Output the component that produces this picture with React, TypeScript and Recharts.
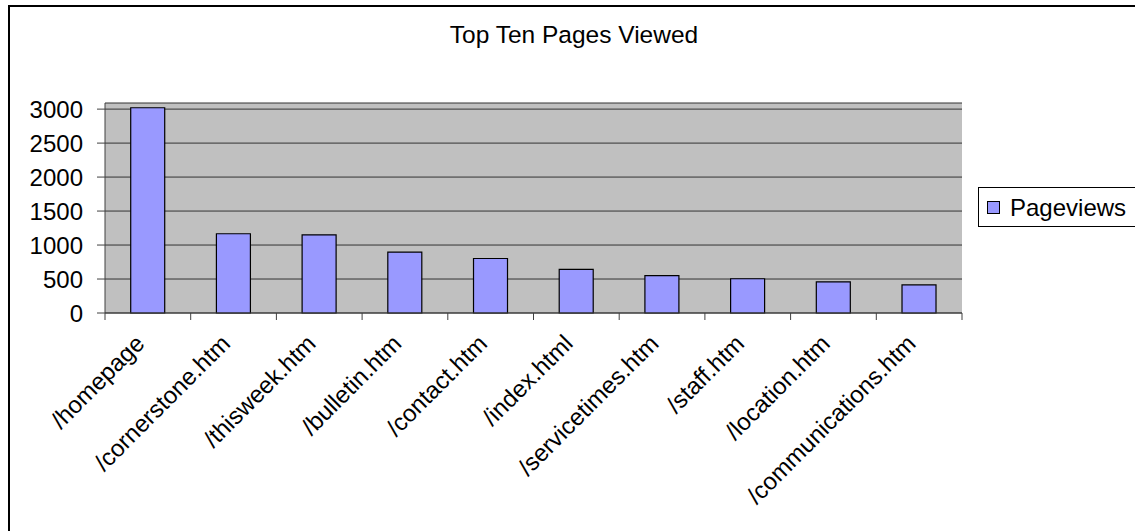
import React from "react"
import { Bar, BarChart, CartesianGrid, Legend, XAxis, YAxis } from "recharts"

const categories = [
  "/homepage",
  "/cornerstone.htm",
  "/thisweek.htm",
  "/bulletin.htm",
  "/contact.htm",
  "/index.html",
  "/servicetimes.htm",
  "/staff.htm",
  "/location.htm",
  "/communications.htm",
]
const pageviews = [3020, 1166, 1150, 896, 802, 641, 549, 504, 459, 413]
const yTicks = [0, 500, 1000, 1500, 2000, 2500, 3000]
const seriesName = "Pageviews"

const data = categories.map((name, i) => ({ name, pageviews: pageviews[i] }))

const FONT = "'Liberation Sans', Arial, sans-serif"

// category labels at 45 degrees, tick marks between categories like Excel
function CategoryTick(props: any) {
  const { x, y, payload, index, visibleTicksCount, width } = props
  const half = payload.offset ?? width / (2 * visibleTicksCount)
  const tx = x - 2
  const ty = y + 32
  return (
    <g>
      <line x1={x - half} x2={x - half} y1={y} y2={y + 7} stroke="#404040" />
      {index === visibleTicksCount - 1 && (
        <line x1={x + half} x2={x + half} y1={y} y2={y + 7} stroke="#404040" />
      )}
      <text
        x={tx}
        y={ty}
        textAnchor="end"
        transform={`rotate(-45 ${tx} ${ty})`}
        fontSize={24}
        fontFamily={FONT}
        fill="#000"
      >
        {payload.value}
      </text>
    </g>
  )
}

function LegendBox(props: any) {
  const items = props.payload || []
  return (
    <div
      style={{
        border: "1px solid #000",
        background: "#fff",
        padding: "6px 30px 6px 8px",
        fontFamily: FONT,
        fontSize: 24,
        lineHeight: "24px",
        whiteSpace: "nowrap",
      }}
    >
      {items.map((item: any) => (
        <span key={item.value} style={{ display: "inline-flex", alignItems: "center" }}>
          <span
            style={{
              display: "inline-block",
              width: 11,
              height: 11,
              background: "#9999FF",
              border: "1px solid #000",
              marginRight: 10,
            }}
          />
          {item.value}
        </span>
      ))}
    </div>
  )
}

export default function App() {
  return (
    <div
      style={{
        position: "fixed",
        left: 8,
        top: 5,
        width: 1127,
        height: 526,
        overflow: "hidden",
      }}
    >
      <div
        style={{
          position: "relative",
          width: 1140,
          height: 540,
          border: "2px solid #000",
          boxSizing: "border-box",
          background: "#fff",
          fontFamily: FONT,
        }}
      >
        <div
          style={{
            position: "absolute",
            left: 0,
            top: 16,
            width: 1128,
            textAlign: "center",
            fontSize: 24.5,
            lineHeight: "24px",
            color: "#000",
          }}
        >
          Top Ten Pages Viewed
        </div>
        <BarChart
          width={1136}
          height={536}
          data={data}
          margin={{ top: 96, right: 184, bottom: 30, left: 35 }}
          barCategoryGap="30%"
        >
          <CartesianGrid fill="#C0C0C0" stroke="#333" vertical={false} />
          <XAxis
            dataKey="name"
            interval={0}
            height={200}
            tickSize={0}
            tickMargin={0}
            tickLine={false}
            axisLine={{ stroke: "#404040" }}
            tick={<CategoryTick />}
          />
          <XAxis
            xAxisId="top"
            orientation="top"
            dataKey="name"
            height={0}
            tick={false}
            tickLine={false}
            axisLine={{ stroke: "#808080" }}
          />
          <YAxis
            domain={[0, 3090]}
            ticks={yTicks}
            interval={0}
            width={60}
            tickSize={8}
            tickMargin={14}
            axisLine={{ stroke: "#404040" }}
            tickLine={{ stroke: "#404040" }}
            tick={{ fontSize: 24, fontFamily: FONT, fill: "#000" }}
          />
          <YAxis
            yAxisId="right"
            orientation="right"
            domain={[0, 3090]}
            width={0}
            tick={false}
            tickLine={false}
            axisLine={{ stroke: "#808080" }}
          />
          <Legend
            layout="horizontal"
            align="center"
            verticalAlign="middle"
            content={<LegendBox />}
            wrapperStyle={{ left: 968, top: 180, width: "auto" }}
          />
          <Bar
            dataKey="pageviews"
            name={seriesName}
            fill="#9999FF"
            stroke="#000"
            strokeWidth={1.2}
            isAnimationActive={false}
          />
        </BarChart>
      </div>
    </div>
  )
}
